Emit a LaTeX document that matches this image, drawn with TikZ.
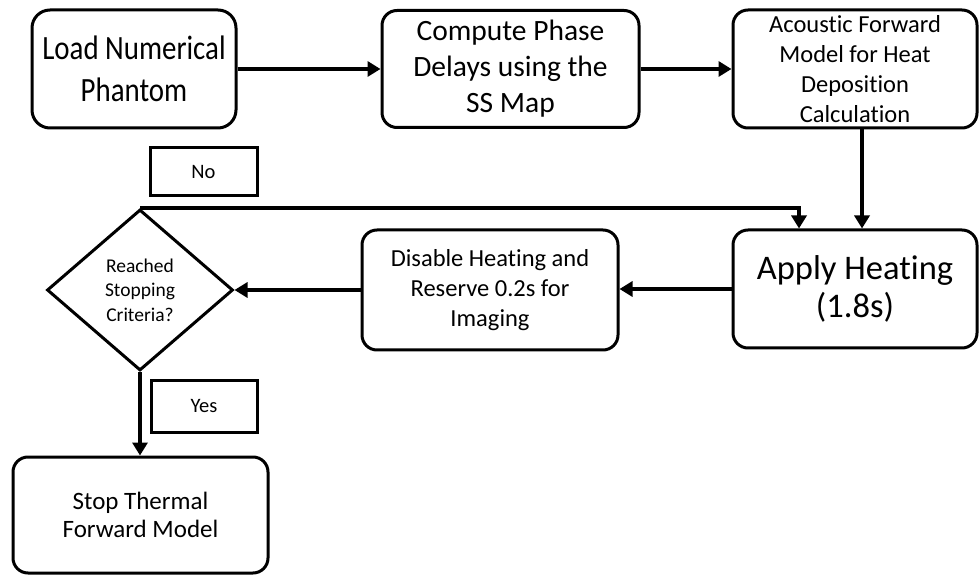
\documentclass[tikz,border=0pt]{standalone}
\usepackage{fontspec}
\setmainfont{Carlito}[RawFeature={-liga;-clig;-dlig;-calt}]
\newfontfamily\loadfont{Carlito}[RawFeature={-liga;-clig;-dlig;-calt},FakeStretch=0.85]
\usetikzlibrary{shapes.geometric,arrows.meta,calc}
\begin{document}
\begin{tikzpicture}[x=1pt,y=1pt,
  box/.style={draw=black,line width=3pt,rounded corners=15pt,align=center,inner sep=0pt,fill=white},
  lab/.style={draw=black,line width=3pt,align=center,inner sep=0pt},
  arr/.style={line width=4pt,-{Triangle[length=13pt,width=15pt]}},
  fa/.style={font=\loadfont\fontsize{34}{42}\selectfont},
  fap/.style={font=\fontsize{34.5}{38}\selectfont},
  fb/.style={font=\fontsize{29.5}{36}\selectfont},
  fc/.style={font=\fontsize{24.5}{30}\selectfont},
  fs/.style={font=\fontsize{25}{28}\selectfont},
  fd/.style={font=\fontsize{19.5}{24.5}\selectfont},
  fe/.style={font=\fontsize{20.5}{25}\selectfont}]
\useasboundingbox (0,0) rectangle (979,576);
\node[box,fa,minimum width=204pt,minimum height=118pt,rounded corners=18pt] (load) at (134,507) {Load Numerical\\Phantom};
\node[box,fb,minimum width=257pt,minimum height=117pt] (comp) at (510.5,507) {Compute Phase\\Delays using the\\SS Map};
\node[box,fc,minimum width=244pt,minimum height=118pt] (acou) at (855,507) {Acoustic Forward\\Model for Heat\\Deposition\\Calculation};
\node[box,fap,minimum width=244pt,minimum height=118pt] (apply) at (855,287) {Apply Heating\\(1.8s)};
\node[box,fc,minimum width=256pt,minimum height=120pt] (dis) at (490,286) {Disable Heating and\\Reserve 0.2s for\\Imaging};
\node[draw=black,line width=3pt,shape=diamond,minimum width=186pt,minimum height=161pt,inner sep=0pt,align=center,fd] (dia) at (140,286) {Reached\\Stopping\\Criteria?};
\node[box,fs,minimum width=255pt,minimum height=116pt] (stop) at (140.5,61) {Stop Thermal\\Forward Model};
\node[lab,fe,minimum width=107pt,minimum height=48pt] (no) at (203.5,404) {No};
\node[lab,fe,minimum width=106pt,minimum height=52pt] (yes) at (204,170) {Yes};
\coordinate (lx) at (799,0);
\draw[arr] (load.east) -- (comp.west);
\draw[arr] (comp.east) -- (acou.west);
\draw[arr] ([xshift=7pt]acou.south) -- ([xshift=7pt]apply.north);
\draw[arr] (dia.north) -- (dia.north -| lx) -- (lx |- apply.north);
\draw[arr] (apply.west) -- (apply.west -| dis.east);
\draw[arr] (dis.west) -- (dia.east);
\draw[arr] (dia.south) -- (dia.south |- stop.north);
\end{tikzpicture}
\end{document}
